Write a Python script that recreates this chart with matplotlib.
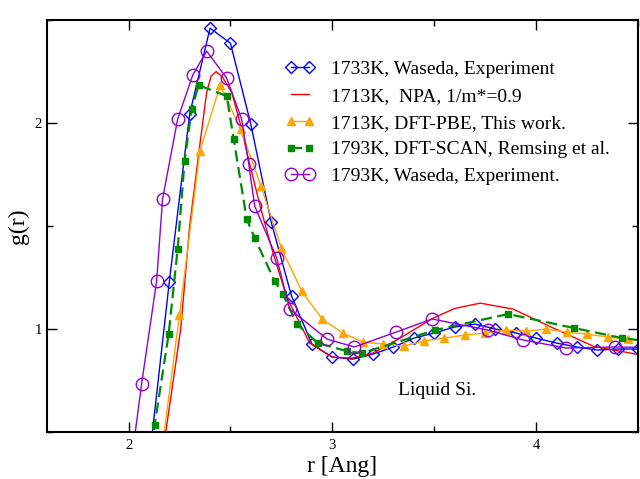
import matplotlib
matplotlib.use("Agg")
import matplotlib.pyplot as plt
from matplotlib.ticker import MultipleLocator

plt.rcParams['font.family'] = ['Liberation Serif', 'DejaVu Serif']

# 1733K, Waseda, Experiment (blue diamonds)
r_w1733 = [2.1, 2.2, 2.3, 2.4, 2.5, 2.6, 2.7, 2.8, 2.9, 3.0, 3.1, 3.2, 3.3, 3.4,
           3.5, 3.6, 3.7, 3.8, 3.9, 4.0, 4.1, 4.2, 4.3, 4.4, 4.5]
g_w1733 = [0.35, 1.228, 2.044, 2.461, 2.388, 1.995, 1.519, 1.160, 0.927, 0.864,
           0.854, 0.879, 0.913, 0.956, 0.981, 1.010, 1.024, 1.000, 0.981, 0.956,
           0.932, 0.913, 0.898, 0.903, 0.903]

# 1713K, NPA, 1/m*=0.9 (red line)
r_npa = [2.15, 2.182, 2.256, 2.30, 2.349, 2.383, 2.405, 2.43, 2.46, 2.506, 2.545,
         2.585, 2.65, 2.708, 2.776, 2.889, 2.998, 3.096, 3.199, 3.332, 3.494,
         3.60, 3.725, 3.887, 4.084, 4.280, 4.487, 4.55]
g_npa = [0.25, 0.495, 1.0, 1.50, 1.888, 2.146, 2.228, 2.250, 2.225, 2.150, 2.010,
         1.840, 1.58, 1.374, 1.155, 0.932, 0.864, 0.859, 0.883, 0.956, 1.053,
         1.100, 1.126, 1.097, 1.005, 0.917, 0.879, 0.875]

# 1713K, DFT-PBE, This work (orange triangles)
r_pbe = [2.15, 2.25, 2.35, 2.45, 2.55, 2.65, 2.75, 2.85, 2.95, 3.05, 3.15, 3.25,
         3.35, 3.45, 3.55, 3.65, 3.75, 3.85, 3.95, 4.05, 4.15, 4.25, 4.35, 4.45, 4.55]
g_pbe = [0.31, 1.068, 1.864, 2.184, 1.97, 1.694, 1.393, 1.184, 1.049, 0.981,
         0.937, 0.927, 0.917, 0.942, 0.956, 0.971, 0.981, 0.995, 0.990, 1.000,
         0.985, 0.976, 0.961, 0.951, 0.94]

# 1793K, DFT-SCAN, Remsing et al. (green squares, dashed)
r_scan = [2.10, 2.128, 2.197, 2.241, 2.275, 2.310, 2.344, 2.482, 2.516, 2.580,
          2.619, 2.717, 2.757, 2.826, 2.929, 3.071, 3.145, 3.504, 3.862, 4.187,
          4.423, 4.60]
g_scan = [0.35, 0.534, 0.976, 1.388, 1.816, 2.068, 2.184, 2.131, 1.922, 1.534,
          1.442, 1.233, 1.170, 1.024, 0.932, 0.893, 0.883, 0.995, 1.073, 1.005,
          0.956, 0.935]

# 1793K, Waseda, Experiment (violet circles)
r_w1793 = [2.02, 2.064, 2.138, 2.167, 2.241, 2.315, 2.383, 2.482, 2.555, 2.590,
           2.619, 2.727, 2.791, 2.975, 3.108, 3.312, 3.489, 3.764, 3.936, 4.147,
           4.388, 4.60]
g_w1793 = [0.40, 0.733, 1.233, 1.631, 2.019, 2.233, 2.350, 2.218, 2.019, 1.801,
           1.597, 1.345, 1.097, 0.951, 0.913, 0.985, 1.049, 0.995, 0.947, 0.908,
           0.913, 0.91]

fig = plt.figure(figsize=(6.4, 4.79), dpi=100)
ax = fig.add_axes([0.0734, 0.098, 0.9236, 0.860])

blue = '#0000ff'
red = '#ff0000'
orange = '#ffa500'
green = '#008b00'
violet = '#9400d3'

ax.plot(r_w1733, g_w1733, color=blue, lw=1.0, marker='D', ms=6.5,
        mfc='none', mec=blue, mew=1.0, label='1733K, Waseda, Experiment')
ax.plot(r_npa, g_npa, color=red, lw=1.0, label='1713K,  NPA, 1/m*=0.9')
ax.plot(r_pbe, g_pbe, color=orange, lw=1.0, marker='^', ms=6,
        mfc=orange, mec=orange, label='1713K, DFT-PBE, This work.')
ax.plot(r_scan, g_scan, color=green, lw=1.6, ls=(0, (5, 2.5)), marker='s', ms=4.5,
        mfc=green, mec=green, label='1793K, DFT-SCAN, Remsing et al.')
ax.plot(r_w1793, g_w1793, color=violet, lw=1.0, marker='o', ms=9,
        mfc='none', mec=violet, mew=1.0, label='1793K, Waseda, Experiment.')

ax.set_xlim(1.6, 4.5)
ax.set_ylim(0.5, 2.5)
ax.xaxis.set_major_locator(MultipleLocator(1))
ax.xaxis.set_minor_locator(MultipleLocator(0.5))
ax.yaxis.set_major_locator(MultipleLocator(1))
ax.yaxis.set_minor_locator(MultipleLocator(0.5))
ax.tick_params(which='both', direction='in', top=True, right=True, labelsize=10.5)
ax.tick_params(which='major', length=7, width=1.0)
ax.tick_params(which='minor', length=4, width=1.0)
ax.tick_params(axis='x', pad=5)
for s in ax.spines.values():
    s.set_linewidth(1.5)

ax.set_xlabel('r [Ang]', fontsize=17, labelpad=3)
ax.set_ylabel('g(r)', fontsize=17, labelpad=4)

ax.text(3.513, 0.70, 'Liquid Si.', fontsize=14, ha='center', va='center')

ax.legend(loc='upper left', bbox_to_anchor=(0.403, 0.902), frameon=False,
          fontsize=14, numpoints=2, handlelength=1.5, handletextpad=0.85,
          labelspacing=0.47, borderaxespad=0, borderpad=0)

fig.savefig('out.png', dpi=100)
